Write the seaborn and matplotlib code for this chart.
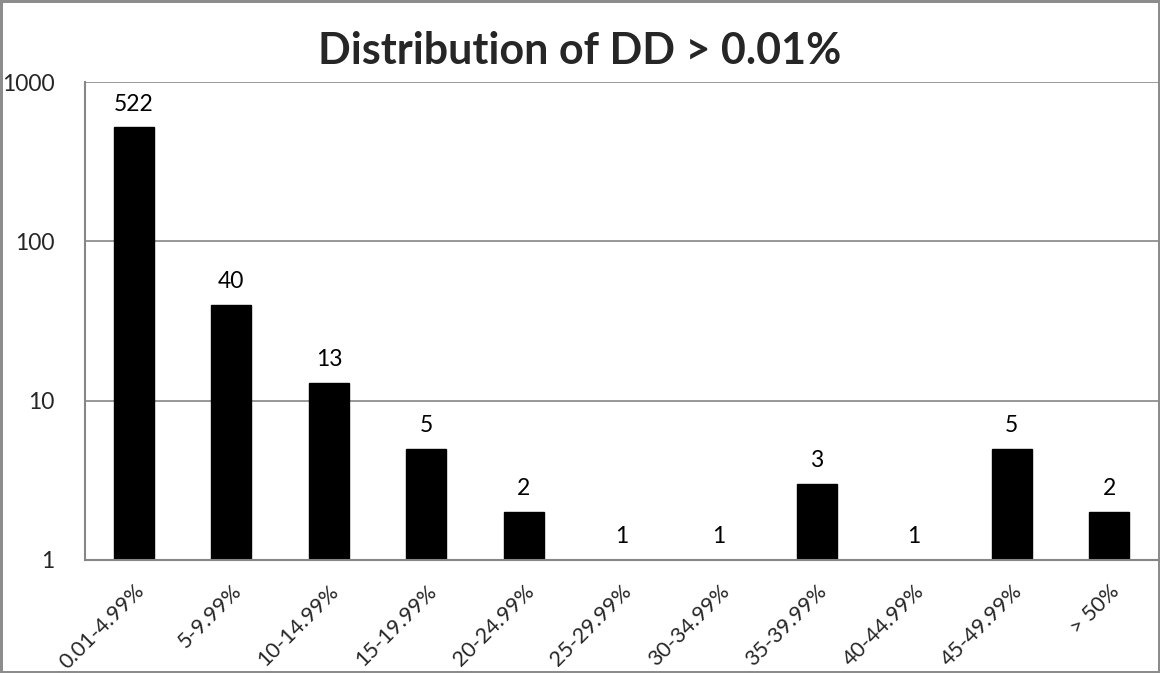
import numpy as np
import matplotlib
matplotlib.use("Agg")
import matplotlib.pyplot as plt
import matplotlib.ticker as mticker
import seaborn as sns

# drawdown buckets and counts
buckets = ["0.01-4.99%", "5-9.99%", "10-14.99%", "15-19.99%", "20-24.99%",
           "25-29.99%", "30-34.99%", "35-39.99%", "40-44.99%", "45-49.99%", "> 50%"]
counts = [522, 40, 13, 5, 2, 1, 1, 3, 1, 5, 2]

sns.set_style("white")
plt.rcParams["font.family"] = ["Lato", "DejaVu Sans"]

fig = plt.figure(figsize=(11.6, 6.73), dpi=100, edgecolor="#8c8c8c", linewidth=2.5)
ax = fig.add_axes([0.0733, 0.168, 0.925, 0.71])

sns.barplot(x=buckets, y=counts, color="black", width=0.41, saturation=1,
            edgecolor="black", ax=ax)
ax.set_yscale("log")
ax.set_ylim(1, 1000)
ax.set_xlim(-0.5, len(buckets) - 0.5)

ax.bar_label(ax.containers[0], labels=[str(c) for c in counts], padding=9,
             fontsize=16.5, color="black")

ax.yaxis.set_major_locator(mticker.FixedLocator([1, 10, 100, 1000]))
ax.yaxis.set_major_formatter(mticker.FixedFormatter(["1", "10", "100", "1000"]))
ax.yaxis.set_minor_locator(mticker.NullLocator())
ax.grid(axis="y", color="#868686", linewidth=1.2)
ax.set_axisbelow(True)

ax.set_xticks(range(len(buckets)))
ax.set_xticklabels(buckets, rotation=45, ha="right", rotation_mode="anchor", fontsize=15.5)
ax.set_xticks(np.arange(-0.5, len(buckets)), minor=True)
ax.tick_params(axis="x", which="major", length=0, pad=15)
ax.tick_params(axis="x", which="minor", length=8, width=1.5, color="#868686", direction="out")
ax.tick_params(axis="y", which="major", length=8, width=1.5, color="#868686",
               direction="out", labelsize=16.5, pad=14)
ax.set_xlabel("")
ax.set_ylabel("")

for s in ["top", "right"]:
    ax.spines[s].set_visible(False)
for s in ["left", "bottom"]:
    ax.spines[s].set_color("#868686")
    ax.spines[s].set_linewidth(1.5)

fig.suptitle("Distribution of DD > 0.01%", fontsize=31, fontweight="bold",
             y=0.924, va="center")

fig.savefig("out.png", dpi=100)
